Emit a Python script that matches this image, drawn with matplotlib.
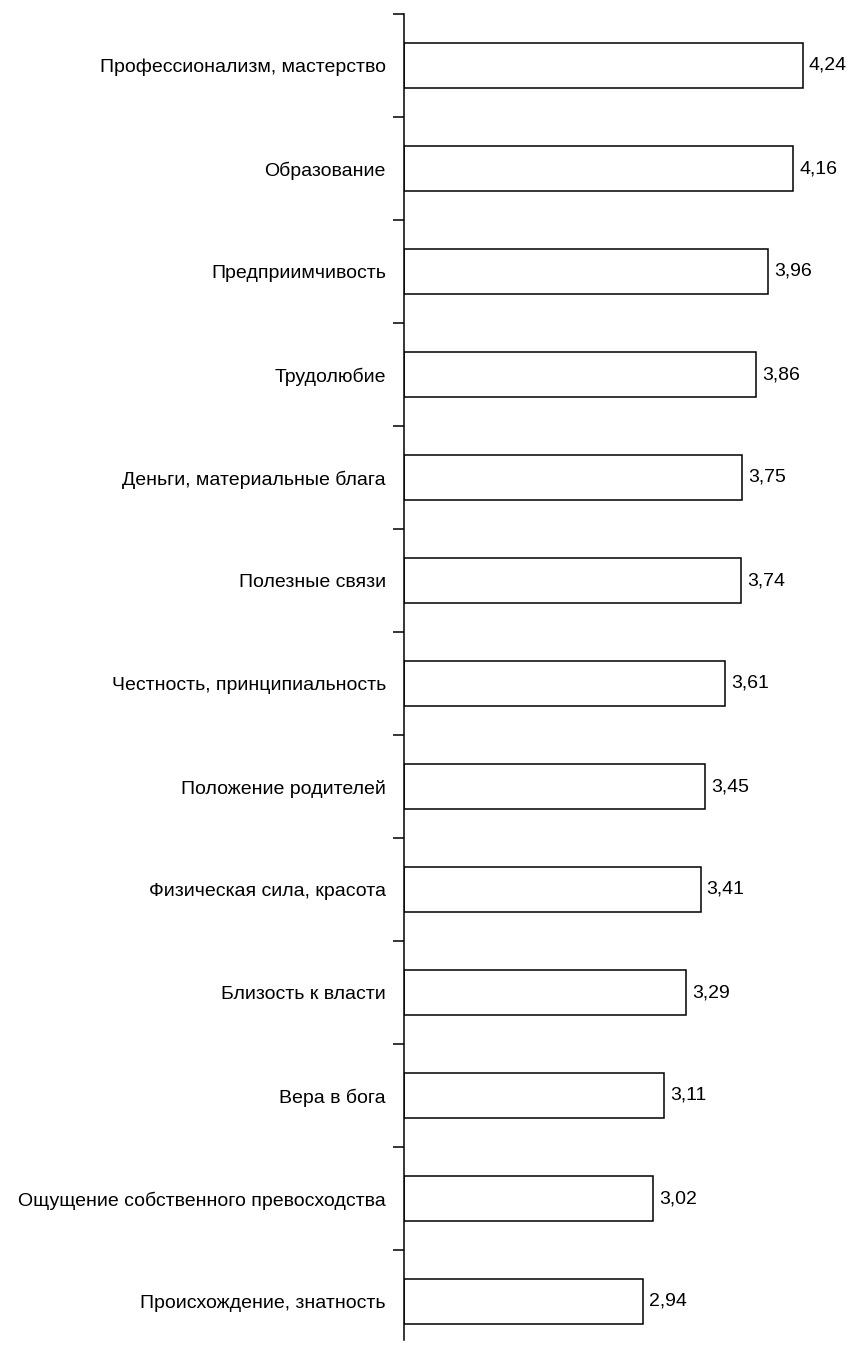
import matplotlib
matplotlib.use("Agg")
from matplotlib import pyplot as plt
from matplotlib.ticker import FixedLocator

# category names, top to bottom
categories = [
    "Профессионализм, мастерство",
    "Образование",
    "Предприимчивость",
    "Трудолюбие",
    "Деньги, материальные блага",
    "Полезные связи",
    "Честность, принципиальность",
    "Положение родителей",
    "Физическая сила, красота",
    "Близость к власти",
    "Вера в бога",
    "Ощущение собственного превосходства",
    "Происхождение, знатность",
]
values = [4.24, 4.16, 3.96, 3.86, 3.75, 3.74, 3.61, 3.45, 3.41, 3.29, 3.11, 3.02, 2.94]
labels = [str(v).replace(".", ",") for v in values]

BASE = 1.0  # value axis starts at 1

plt.rcParams['font.family'] = ['Liberation Sans', 'DejaVu Sans']

fig = plt.figure(figsize=(8.52, 13.49), dpi=100)
ax = fig.add_axes([404 / 852, -4 / 1349, 443 / 852, 1339 / 1349])

pos = list(range(len(categories)))
widths = [v - BASE for v in values]
ax.barh(pos, widths, left=BASE, height=0.43, color="white",
        edgecolor="black", linewidth=1.1)

for p, v, lab in zip(pos, values, labels):
    ax.text(v + 0.05, p, lab, va="center", ha="left", fontsize=14)

ax.set_xlim(BASE, 4.6)
ax.set_ylim(len(categories) - 0.5, -0.5)

ax.set_yticks(pos)
ax.set_yticklabels(categories, fontsize=14)
ax.tick_params(axis="y", which="major", length=0, pad=13)
ax.yaxis.set_minor_locator(FixedLocator([p - 0.5 for p in range(len(categories))]))
ax.tick_params(axis="y", which="minor", length=8, width=1.1, direction="out")

ax.set_xticks([])
for side in ["top", "right", "bottom"]:
    ax.spines[side].set_visible(False)
ax.spines["left"].set_linewidth(1.1)
ax.spines["left"].set_bounds(-0.5, 12.37)

fig.savefig("out.png", dpi=100)
